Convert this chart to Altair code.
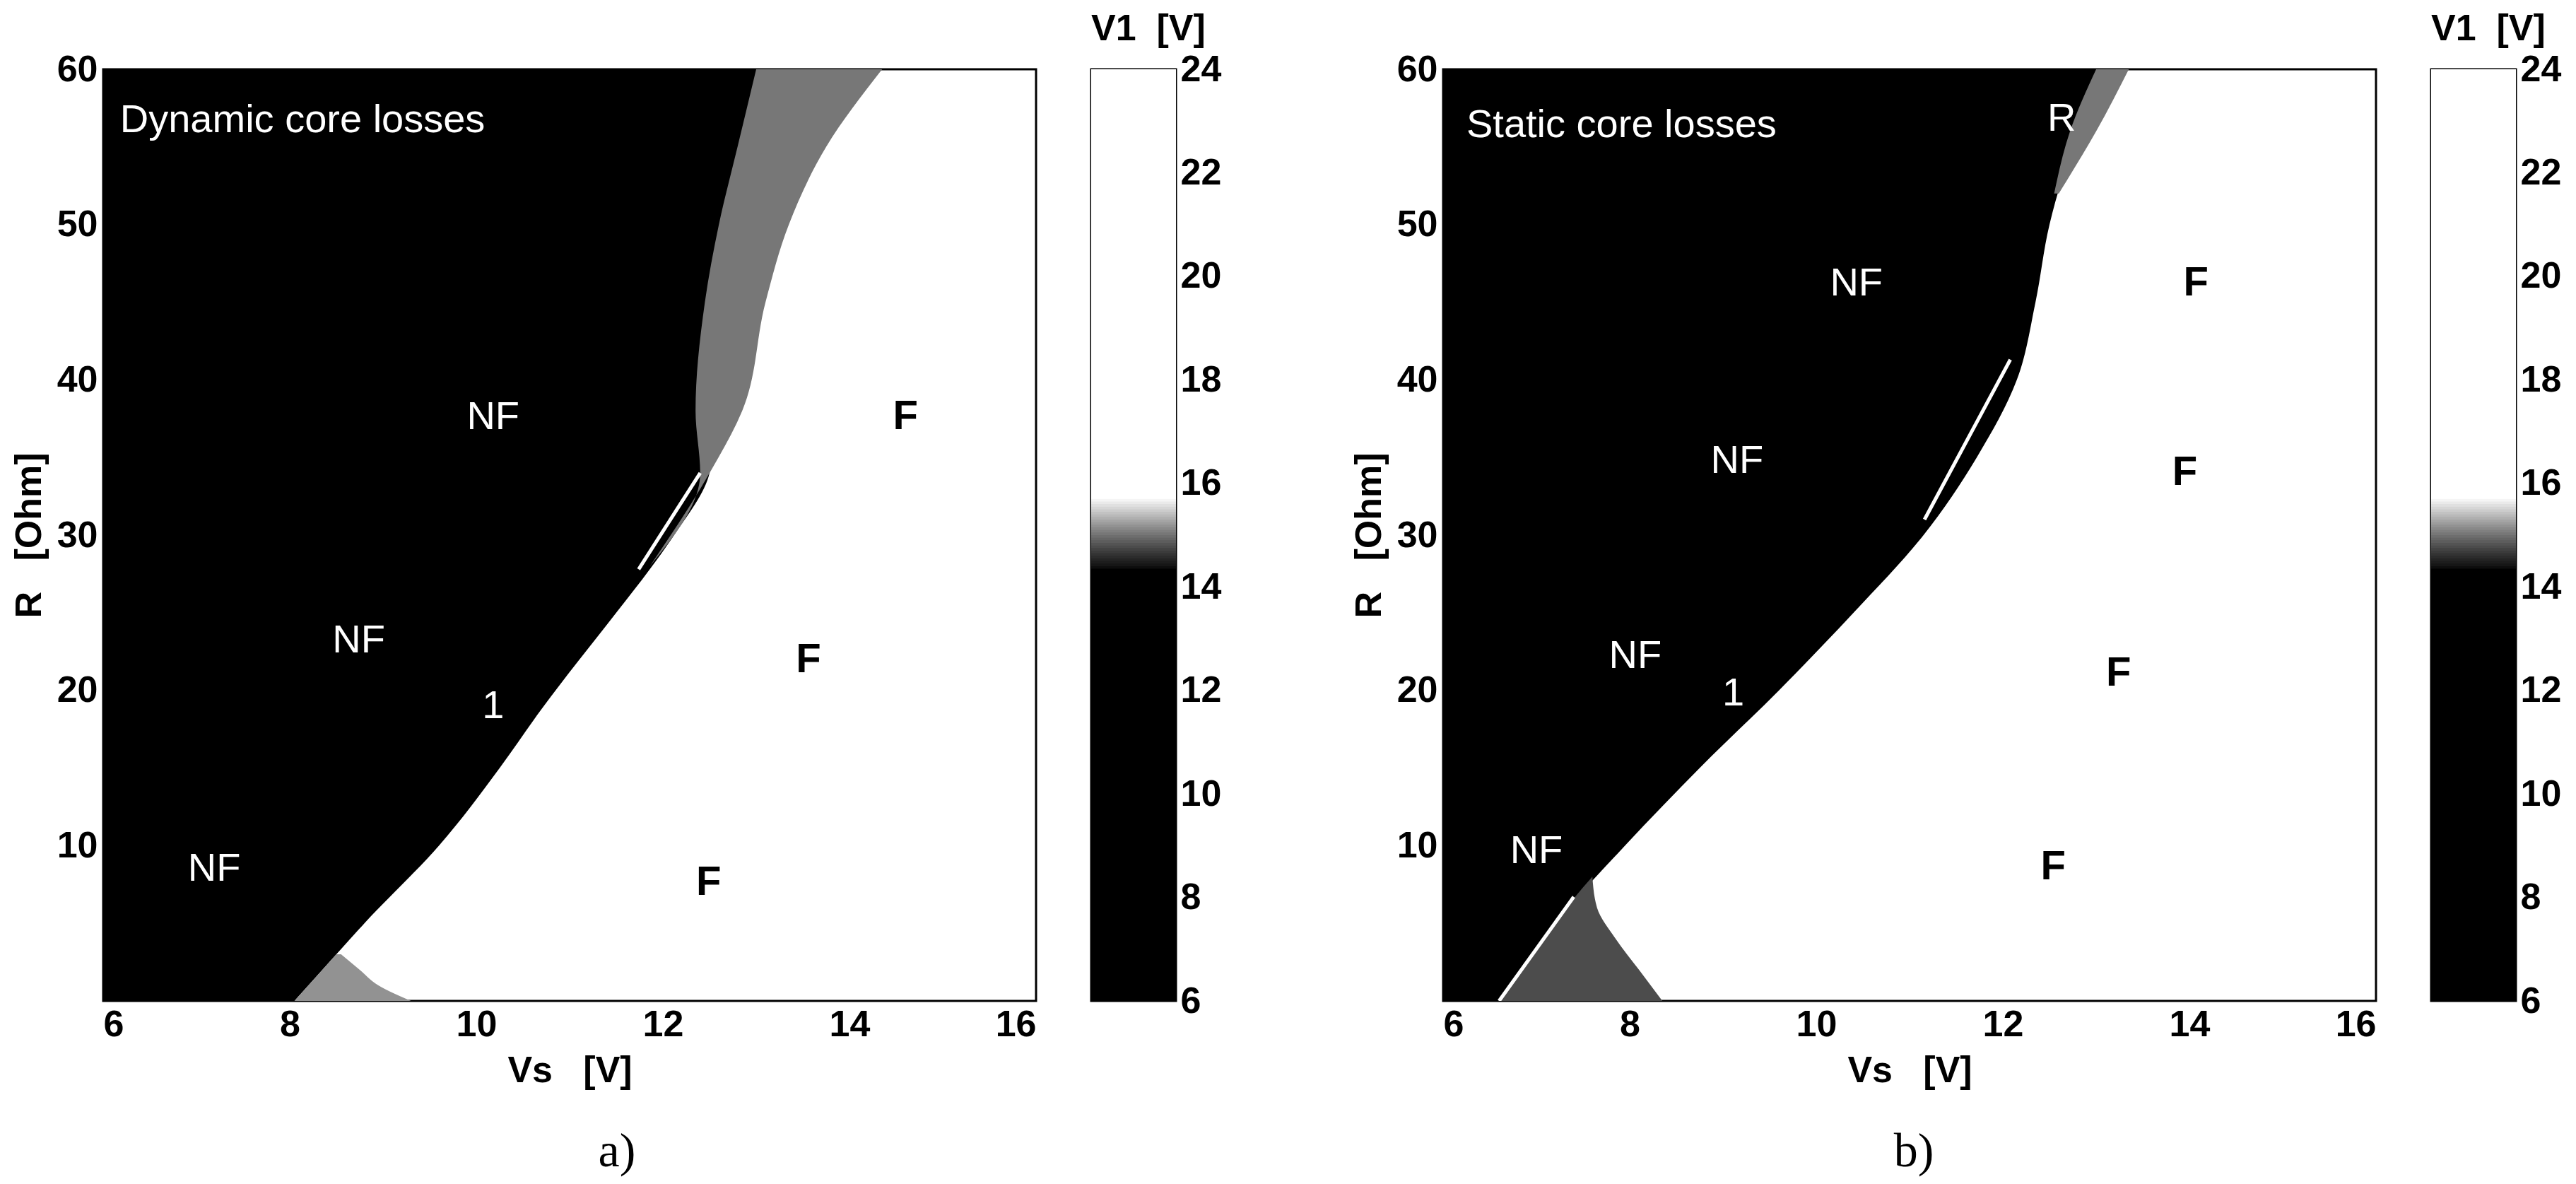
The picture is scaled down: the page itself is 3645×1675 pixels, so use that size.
import altair as alt
import pandas as pd

# ---------------- data ----------------
VS_TICKS = [6, 8, 10, 12, 14, 16]
R_TICKS = [10, 20, 30, 40, 50, 60]
CB_TICKS = [6, 8, 10, 12, 14, 16, 18, 20, 22, 24]

# V1 levels used for the regions (black = low V1, white = high V1)
V1_LOW = 8.0      # non-ferroresonant region (black)
V1_MIX = 15.0     # speckled transition (grey)
V1_DARKMIX = 14.75
V1_LIGHTMIX = 15.15

# ---- panel a) dynamic core losses: right edge of the black (NF) region
a_R = [0, 2, 5, 10, 15, 18.8, 25, 27.8, 30, 34, 38, 45, 50, 55, 60]
a_Vs = [8.05, 8.35, 8.8, 9.6, 10.25, 10.7, 11.5, 11.86, 12.12, 12.5, 12.58, 12.68, 12.82, 12.97, 13.16]
# speckled band near the upper part of the boundary
a_band_R = [28, 34, 38, 45, 50, 55, 60]
a_band_lo = [11.86, 12.4, 12.35, 12.45, 12.6, 12.8, 13.0]
a_band_hi = [11.86, 12.5, 12.85, 13.1, 13.35, 13.75, 14.35]
# speckles near the bottom edge
a_low_R = [0, 1, 2, 3]
a_low_lo = [8.05, 8.2, 8.35, 8.5]
a_low_hi = [9.3, 8.95, 8.75, 8.55]
# thin white sliver along the boundary
a_sl_R = [27.8, 34.0]
a_sl_Vs = [11.74, 12.4]
# labels
a_lab_text = ["NF", "NF", "1", "NF"]
a_lab_Vs = [10.18, 8.74, 10.18, 7.19]
a_lab_R = [37.6, 23.2, 19.0, 8.5]
a_F_Vs = [14.6, 13.56, 12.49]
a_F_R = [37.6, 21.95, 7.6]
a_title = "Dynamic core losses"
a_title_pos = (6.18, 56.7)

# ---- panel b) static core losses
b_R = [0, 5, 10, 15, 20, 25, 30, 35, 40, 45, 50, 55, 60]
b_Vs = [6.6, 7.2, 7.95, 8.75, 9.6, 10.4, 11.15, 11.72, 12.15, 12.35, 12.5, 12.75, 13.1]
b_band_R = [52, 56, 60]
b_band_lo = [12.55, 12.72, 13.0]
b_band_hi = [12.6, 13.0, 13.35]
b_low_R = [0, 2, 4, 6, 8]
b_low_lo = [6.6, 6.84, 7.08, 7.32, 7.6]
b_low_hi = [8.35, 8.1, 7.85, 7.65, 7.6]
b_line_R = [0, 6.7]
b_line_Vs = [6.6, 7.4]
b_sl_R = [31.0, 41.3]
b_sl_Vs = [11.16, 12.08]
b_lab_text = ["R", "NF", "NF", "NF", "1", "NF"]
b_lab_Vs = [12.63, 10.43, 9.15, 8.06, 9.11, 7.0]
b_lab_R = [56.8, 46.2, 34.8, 22.2, 19.8, 9.65]
b_F_Vs = [14.07, 13.95, 13.24, 12.54]
b_F_R = [46.2, 34.0, 21.1, 8.6]
b_title = "Static core losses"
b_title_pos = (6.25, 56.4)

# colour-bar levels
CB_MIN, CB_MAX, CB_STEP = 6.0, 24.0, 0.05

# ---------------- styling ----------------
FONT = "Liberation Sans"
SERIF = "Liberation Serif"
PW, PH = 1320, 1318
CBW = 120
NBSP = "\u00a0"

cscale = alt.Scale(type="linear", domain=[14.3, 15.7], range=["black", "white"], clamp=True)
xscale = alt.Scale(domain=[6, 16], nice=False, zero=False)
yscale = alt.Scale(domain=[0, 60], nice=False, zero=False)


def band(Rs, lo, hi, v1):
    return pd.DataFrame({"R": Rs, "lo": lo, "hi": hi, "V1": [v1] * len(Rs)})


def panel(R, Vs, bands, lines, lab_text, lab_Vs, lab_R, F_Vs, F_R, title, title_pos, caption, cap_dx):
    xax = alt.Axis(values=VS_TICKS, title="Vs" + NBSP * 3 + "[V]", grid=False, ticks=False,
                   domain=False, labelPadding=8, titlePadding=14, format="d")
    yax = alt.Axis(values=R_TICKS, title="R" + NBSP * 3 + "[Ohm]", grid=False, ticks=False,
                   domain=False, labelPadding=8, titlePadding=12, format="d")

    black = pd.DataFrame({"R": R, "lo": [VS_TICKS[0]] * len(R), "hi": Vs, "V1": [V1_LOW] * len(R)})
    layers = [
        alt.Chart(black).mark_area(orient="horizontal", clip=True, interpolate="monotone").encode(
            y=alt.Y("R:Q", scale=yscale, axis=yax),
            x=alt.X("lo:Q", scale=xscale, axis=xax),
            x2="hi:Q",
            color=alt.Color("V1:Q", scale=cscale, legend=None),
        )
    ]
    for bdf in bands:
        layers.append(
            alt.Chart(bdf).mark_area(orient="horizontal", clip=True, interpolate="monotone").encode(
                y="R:Q", x="lo:Q", x2="hi:Q",
                color=alt.Color("V1:Q", scale=cscale, legend=None),
            )
        )
    for ldf in lines:
        layers.append(
            alt.Chart(ldf).mark_line(color="white", strokeWidth=5, clip=True).encode(
                y="R:Q", x="Vs:Q", order="R:Q"
            )
        )
    lab = pd.DataFrame({"t": lab_text, "Vs": lab_Vs, "R": lab_R})
    layers.append(
        alt.Chart(lab).mark_text(color="white", font=FONT, fontSize=56, align="center",
                                 baseline="middle").encode(x="Vs:Q", y="R:Q", text="t:N")
    )
    fl = pd.DataFrame({"t": ["F"] * len(F_Vs), "Vs": F_Vs, "R": F_R})
    layers.append(
        alt.Chart(fl).mark_text(color="black", font=FONT, fontSize=58, fontWeight="bold",
                                align="center", baseline="middle").encode(x="Vs:Q", y="R:Q", text="t:N")
    )
    tl = pd.DataFrame({"t": [title], "Vs": [title_pos[0]], "R": [title_pos[1]]})
    layers.append(
        alt.Chart(tl).mark_text(color="white", font=FONT, fontSize=56, align="left",
                                baseline="middle").encode(x="Vs:Q", y="R:Q", text="t:N")
    )
    return alt.layer(*layers).properties(
        width=PW, height=PH,
        title=alt.TitleParams(caption, orient="bottom", font=SERIF, fontSize=68,
                              fontWeight="normal", offset=56, dx=cap_dx, anchor="middle"),
    )


def colorbar():
    n = int(round((CB_MAX - CB_MIN) / CB_STEP))
    lv = [CB_MIN + i * CB_STEP for i in range(n)]
    # each level rect overlaps the next one slightly so no seams show
    df = pd.DataFrame({"v": lv, "v2": [min(v + 3 * CB_STEP, CB_MAX) for v in lv], "c0": 0.0, "c1": 1.0})
    return alt.Chart(df).mark_rect(strokeWidth=0).encode(
        x=alt.X("c0:Q", scale=alt.Scale(domain=[0, 1], nice=False), axis=None),
        x2="c1:Q",
        y=alt.Y("v:Q", scale=alt.Scale(domain=[CB_MIN, CB_MAX], nice=False, zero=False),
                axis=alt.Axis(orient="right", values=CB_TICKS, title=None, grid=False,
                              ticks=False, domain=False, labelPadding=6, format="d")),
        y2="v2:Q",
        color=alt.Color("v:Q", scale=cscale, legend=None),
    ).properties(
        width=CBW, height=PH,
        title=alt.TitleParams("V1" + NBSP * 2 + "[V]", anchor="start", font=FONT, fontSize=52,
                              fontWeight="bold", offset=4),
    )


pa = panel(a_R, a_Vs,
           [band(a_band_R, a_band_lo, a_band_hi, V1_MIX), band(a_low_R, a_low_lo, a_low_hi, V1_LIGHTMIX)],
           [pd.DataFrame({"R": a_sl_R, "Vs": a_sl_Vs})],
           a_lab_text, a_lab_Vs, a_lab_R, a_F_Vs, a_F_R, a_title, a_title_pos, "a)", 67)

pb = panel(b_R, b_Vs,
           [band(b_band_R, b_band_lo, b_band_hi, V1_MIX), band(b_low_R, b_low_lo, b_low_hi, V1_DARKMIX)],
           [pd.DataFrame({"R": b_line_R, "Vs": b_line_Vs}), pd.DataFrame({"R": b_sl_R, "Vs": b_sl_Vs})],
           b_lab_text, b_lab_Vs, b_lab_R, b_F_Vs, b_F_R, b_title, b_title_pos, "b)", 6)

spacer = alt.Chart(pd.DataFrame({"v": [0]})).mark_point(opacity=0).encode(
    x=alt.X("v:Q", axis=None), y=alt.Y("v:Q", axis=None)
).properties(width=222, height=PH, view=alt.ViewBackground(strokeOpacity=0))

chart = alt.hconcat(
    pa, colorbar(), spacer, pb, colorbar(),
    spacing=78, bounds="flush", background="white", padding=5,
).configure_view(
    stroke="black", strokeWidth=3, fill="white"
).configure_axis(
    labelFont=FONT, labelFontSize=52, labelFontWeight="bold", labelColor="black",
    titleFont=FONT, titleFontSize=52, titleFontWeight="bold", titleColor="black",
)

chart.save("out.html", embed_options={"renderer": "svg", "actions": False})
